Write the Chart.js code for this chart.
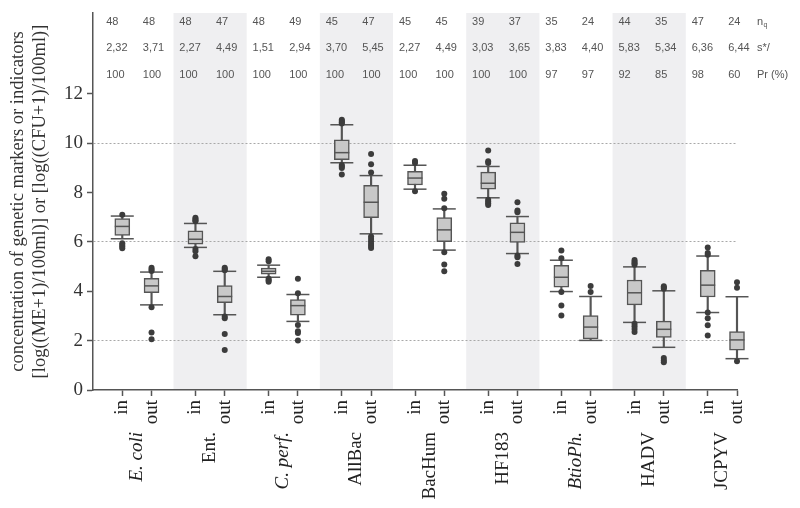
<!DOCTYPE html>
<html>
<head>
<meta charset="utf-8">
<script src="https://cdn.jsdelivr.net/npm/chart.js@4.4.0/dist/chart.umd.min.js"></script>
<style>
  html, body { margin: 0; padding: 0; background: #fff; }
  #wrap { width: 800px; height: 508px; }
</style>
</head>
<body>
<div id="wrap"><canvas id="chart" width="800" height="508"></canvas></div>
<script>
// groups and sites
const groups = ['E. coli', 'Ent.', 'C. perf.', 'AllBac', 'BacHum', 'HF183', 'BtioPh.', 'HADV', 'JCPYV'];
const italicGroups = [true, false, true, false, false, false, true, false, false];
const sites = ['in', 'out'];

// table above the boxes (one value per box: in, out, in, out ...)
const nq = [48, 48, 48, 47, 48, 49, 45, 47, 45, 45, 39, 37, 35, 24, 44, 35, 47, 24];
const sStar = ['2,32', '3,71', '2,27', '4,49', '1,51', '2,94', '3,70', '5,45', '2,27', '4,49',
               '3,03', '3,65', '3,83', '4,40', '5,83', '5,34', '6,36', '6,44'];
const prPct = [100, 100, 100, 100, 100, 100, 100, 100, 100, 100, 100, 100, 97, 97, 92, 85, 98, 60];
const rowNames = ['n', 's*/', 'Pr (%)'];

// box statistics
const whiskHigh = [7.05, 4.78, 6.75, 4.81, 5.06, 3.87, 10.75, 8.69, 9.11, 7.34, 9.06, 7.03, 5.26, 3.79, 4.99, 4.02, 5.43, 3.78];
const q3 =        [6.95, 4.53, 6.45, 4.23, 4.94, 3.66, 10.14, 8.30, 8.86, 6.99, 8.83, 6.78, 5.05, 3.02, 4.46, 2.79, 4.85, 2.37];
const medians =   [6.63, 4.22, 6.11, 3.79, 4.81, 3.42, 9.62, 7.61, 8.59, 6.49, 8.38, 6.39, 4.57, 2.55, 3.94, 2.46, 4.25, 2.03];
const q1 =        [6.27, 3.94, 5.91, 3.54, 4.69, 3.03, 9.34, 6.98, 8.31, 6.01, 8.14, 5.98, 4.17, 2.07, 3.45, 2.13, 3.77, 1.61];
const whiskLow =  [6.13, 3.45, 5.78, 3.05, 4.57, 2.78, 9.21, 6.33, 8.14, 5.67, 7.79, 5.53, 3.99, 2.01, 2.74, 1.73, 3.14, 1.27];
const outliers = [
  [7.1, 5.95, 5.88, 5.82, 5.75],
  [4.95, 4.88, 4.82, 3.35, 2.33, 2.06],
  [6.98, 6.93, 6.88, 6.84, 5.71, 5.62, 5.42],
  [4.95, 4.9, 4.85, 2.98, 2.91, 2.27, 1.62],
  [5.3, 5.22, 4.51, 4.45, 4.39],
  [4.51, 3.92, 2.63, 2.38, 2.31, 2.01],
  [10.95, 10.9, 10.85, 10.8, 9.12, 9.06, 9.0, 8.73],
  [9.57, 9.15, 8.82, 6.22, 6.12, 6.02, 5.92, 5.84, 5.76],
  [9.28, 9.2, 8.06],
  [7.95, 7.75, 7.37, 5.58, 5.09, 4.81],
  [9.71, 9.27, 9.2, 7.71, 7.64, 7.57, 7.5],
  [7.61, 7.28, 7.2, 5.45, 5.38, 5.11],
  [5.65, 5.34, 3.97, 3.42, 3.02],
  [4.22, 3.97],
  [5.27, 5.2, 5.14, 5.08, 2.69, 2.58, 2.47, 2.35],
  [4.2, 4.15, 4.1, 1.3, 1.2, 1.12],
  [5.78, 5.55, 5.48, 3.14, 2.91, 2.62, 2.21],
  [4.37, 4.14, 1.17]
];

// y axis ticks and the dotted reference lines
const yTicks = [0, 2, 4, 6, 8, 10, 12];
const yGridLines = [2, 6, 10];
const yTitle = ['concentration of genetic markers or indicators', '[log((ME+1)/100ml)] or [log((CFU+1)/100ml)]'];

// position of a box on the x axis: two per group, groups 2.5 units apart
const xOf = i => 2.5 * Math.floor(i / 2) + 1 + (i % 2);
const groupCenter = k => 2.5 * k + 1.5;

const SERIF = '"Liberation Serif", "DejaVu Serif", serif';
const SANS = '"Liberation Sans", Arial, sans-serif';
const DARK = '#555';

// grey bands behind every second group
const bandsPlugin = {
  id: 'bands',
  beforeDraw(chart) {
    const {ctx, chartArea, scales} = chart;
    ctx.save();
    ctx.fillStyle = '#fff';
    ctx.fillRect(0, 0, chart.width, chart.height);
    ctx.fillStyle = '#efeff1';
    groups.forEach((g, k) => {
      if (k % 2 === 1) {
        const x1 = scales.x.getPixelForValue(2.5 * k + 0.25);
        const x2 = scales.x.getPixelForValue(2.5 * k + 2.75);
        ctx.fillRect(x1, chartArea.top, x2 - x1, chartArea.bottom - chartArea.top);
      }
    });
    ctx.restore();
  }
};

// the three rows of numbers at the top
const tablePlugin = {
  id: 'table',
  afterDraw(chart) {
    const {ctx, chartArea, scales} = chart;
    const rowsY = [14.9, 13.85, 12.78].map(v => scales.y.getPixelForValue(v));
    const rows = [nq, sStar, prPct];
    ctx.save();
    ctx.fillStyle = '#555';
    ctx.textAlign = 'left';
    ctx.textBaseline = 'middle';
    ctx.font = '11px ' + SANS;
    rows.forEach((row, r) => {
      row.forEach((val, i) => {
        const k = Math.floor(i / 2);
        const xv = 2.5 * k + 0.45 + 1.25 * (i % 2);
        ctx.fillText(String(val), scales.x.getPixelForValue(xv), rowsY[r]);
      });
    });
    const lx = chartArea.right + 20;
    ctx.fillText(rowNames[0], lx, rowsY[0]);
    const nw = ctx.measureText(rowNames[0]).width;
    ctx.font = '7px ' + SANS;
    ctx.fillText('q', lx + nw + 0.5, rowsY[0] + 3);
    ctx.font = '11px ' + SANS;
    ctx.fillText(rowNames[1], lx, rowsY[1]);
    ctx.fillText(rowNames[2], lx, rowsY[2]);
    ctx.restore();
  }
};

const boxIdx = q1.map((v, i) => i);

new Chart(document.getElementById('chart'), {
  type: 'bar',
  data: {
    datasets: [
      {
        type: 'scatter',
        label: 'outliers',
        data: outliers.flatMap((arr, i) => arr.map(v => ({x: xOf(i), y: v}))),
        pointRadius: 3,
        pointBackgroundColor: '#3c3c3c',
        pointBorderWidth: 0,
        clip: false,
        order: 0
      },
      {
        type: 'scatter',
        label: 'median',
        data: boxIdx.map(i => ({x: xOf(i), y: medians[i]})),
        pointStyle: 'line',
        pointRadius: 7.5,
        pointBorderColor: DARK,
        pointBorderWidth: 1.5,
        clip: false,
        order: 1
      },
      {
        type: 'scatter',
        label: 'caps',
        data: boxIdx.flatMap(i => [{x: xOf(i), y: whiskHigh[i]}, {x: xOf(i), y: whiskLow[i]}]),
        pointStyle: 'line',
        pointRadius: 11.5,
        pointBorderColor: DARK,
        pointBorderWidth: 1.5,
        clip: false,
        order: 2
      },
      {
        label: 'box',
        data: boxIdx.map(i => ({x: xOf(i), y: [q1[i], q3[i]]})),
        barThickness: 15,
        backgroundColor: '#c8c8c8',
        borderColor: DARK,
        borderWidth: 1.5,
        borderSkipped: false,
        grouped: false,
        clip: false,
        order: 3
      },
      {
        label: 'whisker',
        data: boxIdx.map(i => ({x: xOf(i), y: [whiskLow[i], whiskHigh[i]]})),
        barThickness: 1.5,
        backgroundColor: DARK,
        borderWidth: 0,
        grouped: false,
        clip: false,
        order: 4
      }
    ]
  },
  options: {
    responsive: false,
    animation: false,
    events: [],
    layout: { padding: { top: 7, right: 63, bottom: 0, left: 0 } },
    plugins: {
      legend: { display: false },
      tooltip: { enabled: false }
    },
    scales: {
      x: {
        type: 'linear',
        position: 'bottom',
        min: 0,
        max: 22,
        offset: false,
        afterBuildTicks: s => { s.ticks = boxIdx.map(i => ({value: xOf(i)})); },
        afterFit: s => { s.height = 38; s.paddingLeft = 0; s.paddingRight = 0; },
        ticks: {
          autoSkip: false,
          minRotation: 90,
          maxRotation: 90,
          padding: 4,
          color: '#222',
          font: { family: SERIF, size: 19 },
          callback: (v, i) => sites[i % 2]
        },
        grid: { offset: false, drawOnChartArea: false, drawTicks: true, tickLength: 6, tickColor: DARK, tickWidth: 1.5 },
        border: { color: DARK, width: 1.5 }
      },
      x2: {
        type: 'linear',
        position: 'bottom',
        min: 0,
        max: 22,
        offset: false,
        afterBuildTicks: s => { s.ticks = groups.map((g, k) => ({value: groupCenter(k)})); },
        afterFit: s => { s.height = 80; s.paddingLeft = 0; s.paddingRight = 0; },
        ticks: {
          autoSkip: false,
          minRotation: 90,
          maxRotation: 90,
          padding: 4,
          color: '#222',
          font: c => ({ family: SERIF, size: 19, style: italicGroups[c.index] ? 'italic' : 'normal' }),
          callback: (v, i) => groups[i]
        },
        grid: { display: false, drawTicks: false },
        border: { display: false }
      },
      y: {
        type: 'linear',
        position: 'left',
        min: 0,
        max: 15.28,
        afterBuildTicks: s => { s.ticks = yTicks.map(v => ({value: v})); },
        afterFit: s => { s.width = 93; s.paddingTop = 0; s.paddingBottom = 0; },
        ticks: {
          padding: 4,
          color: '#333',
          font: { family: SERIF, size: 19 }
        },
        grid: {
          color: c => yGridLines.includes(c.tick.value) ? '#a8a8a8' : 'rgba(0,0,0,0)',
          lineWidth: 1,
          drawTicks: true,
          tickLength: 6,
          tickColor: DARK,
          tickWidth: 1.5
        },
        border: { color: DARK, width: 1.5, dash: [2, 2] },
        title: {
          display: true,
          text: yTitle,
          color: '#333',
          padding: { top: 7, bottom: 0 },
          font: { family: SERIF, size: 18.5 }
        }
      }
    }
  },
  plugins: [bandsPlugin, tablePlugin]
});
</script>
</body>
</html>
